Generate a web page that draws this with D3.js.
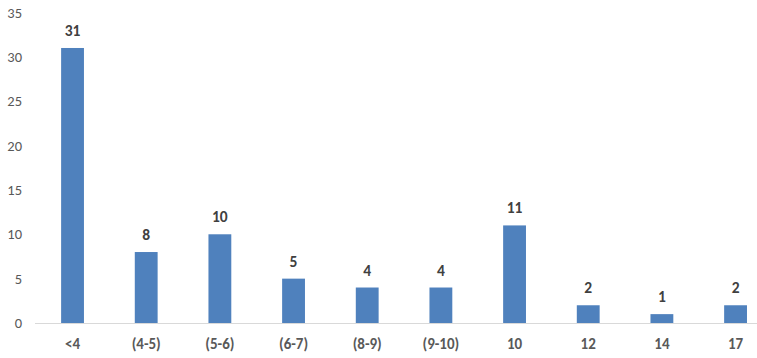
<!DOCTYPE html>
<html><head><meta charset="utf-8">
<script src="https://cdn.jsdelivr.net/npm/d3@7"></script>
<style>body{margin:0;background:#fff}svg{display:block}</style>
</head><body>
<svg id="c" width="757" height="358"></svg>
<script>
const categories = ["<4","(4-5)","(5-6)","(6-7)","(8-9)","(9-10)","10","12","14","17"];
const values = [31,8,10,5,4,4,11,2,1,2];
const yTicks = [0,5,10,15,20,25,30,35];

const svg = d3.select("#c");
const x = d3.scaleBand().domain(categories).range([35.7, 772.4]).paddingInner(0.69).paddingOuter(0.345);
const y = d3.scaleLinear().domain([0,35]).range([323, 12.5]);
const font = "Carlito, Calibri, 'Liberation Sans', Arial, sans-serif";

// y axis labels
svg.append("g").selectAll("text").data(yTicks).join("text")
  .attr("x", 22).attr("y", d => y(d)).attr("dy", "0.35em")
  .attr("text-anchor","end").attr("font-family", font).attr("font-size", 14.5)
  .attr("fill", "#595959").text(d => d);

// bars
svg.append("g").selectAll("rect").data(values).join("rect")
  .attr("x", (d,i) => x(categories[i])).attr("width", x.bandwidth())
  .attr("y", d => y(d)).attr("height", d => y(0) - y(d))
  .attr("fill", "#4F81BD");

// baseline
svg.append("line").attr("x1", 35).attr("x2", 757).attr("y1", y(0)+0.5).attr("y2", y(0)+0.5)
  .attr("stroke", "#d9d9d9").attr("stroke-width", 1);

// value labels
svg.append("g").selectAll("text").data(values).join("text")
  .attr("x", (d,i) => x(categories[i]) + x.bandwidth()/2).attr("y", d => y(d) - 12)
  .attr("text-anchor","middle").attr("font-family", font).attr("font-size", 15.5)
  .attr("font-weight","bold").attr("fill", "#404040").text(d => d);

// x labels
svg.append("g").selectAll("text").data(categories).join("text")
  .attr("x", d => x(d) + x.bandwidth()/2).attr("y", 348.5)
  .attr("text-anchor","middle").attr("font-family", font).attr("font-size", 15)
  .attr("font-weight","bold").attr("fill", "#595959").text(d => d);
</script>
</body></html>
